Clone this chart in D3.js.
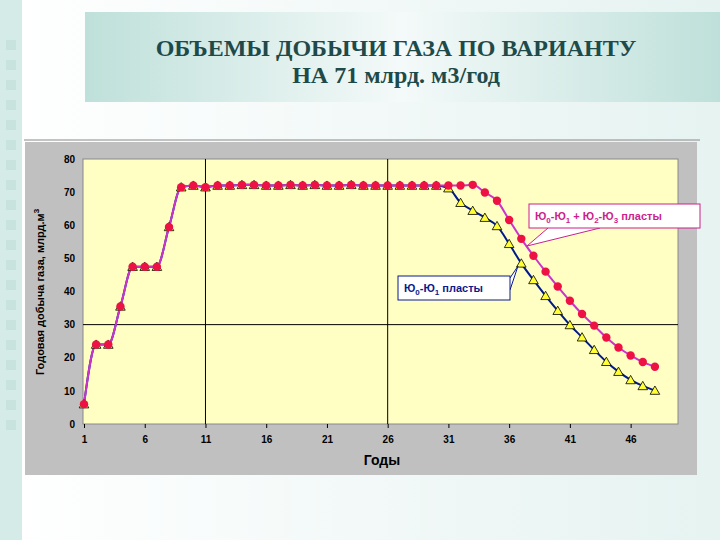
<!DOCTYPE html><html><head><meta charset="utf-8"><script src="https://cdn.jsdelivr.net/npm/d3@7"></script>
<style>body{margin:0}svg{display:block}.ttl{font-family:"Liberation Serif","Times New Roman","DejaVu Serif",serif}</style></head><body><svg id="c" width="720" height="540"></svg>
<script>
const years = d3.range(1,49);
const totalSeries = [6,24,24,35.5,47.5,47.5,47.5,59.5,71.5,72,71.5,72,72,72.2,72.2,72,72,72.2,72,72.2,72,72,72.2,72,72,72,72,72,72,72,72,72,72.2,69.9,67.4,61.6,55.9,50.8,46,41.5,37.2,33.2,29.7,26.1,23.1,20.7,18.7,17.3];
const baseSeries = [6,24,24,35.5,47.5,47.5,47.5,59.5,71.5,72,71.5,72,72,72.2,72.2,72,72,72.2,72,72.2,72,72,72.2,72,72,72,72,72,72,72,71.2,66.8,64.4,62.3,59.8,54.4,48.5,43.5,38.7,34.2,29.9,26.2,22.4,18.8,15.8,13.3,11.5,10.1];
const xTicks = [1,6,11,16,21,26,31,36,41,46];
const yTicks = [0,10,20,30,40,50,60,70,80];

const svg = d3.select('#c');
const defs = svg.append('defs');
const g1 = defs.append('linearGradient').attr('id','bg').attr('x1',0).attr('x2',1);
g1.append('stop').attr('offset',0).attr('stop-color','#ffffff');
g1.append('stop').attr('offset',1).attr('stop-color','#e6f3f1');
const g2 = defs.append('linearGradient').attr('id','band').attr('x1',0).attr('x2',1);
g2.append('stop').attr('offset',0).attr('stop-color','#bfe0da');
g2.append('stop').attr('offset',0.5).attr('stop-color','#f4faf9');
g2.append('stop').attr('offset',1).attr('stop-color','#bfe0da');
svg.append('rect').attr('width',720).attr('height',540).attr('fill','url(#bg)');
svg.append('rect').attr('x',85).attr('y',12).attr('width',635).attr('height',90).attr('fill','url(#band)');
svg.append('rect').attr('x',0).attr('y',0).attr('width',22).attr('height',540).attr('fill','#d5ebe7');
for(let i=0;i<20;i++) svg.append('rect').attr('x',6).attr('y',40+i*20).attr('width',10).attr('height',10).attr('fill','#c8e3de');
svg.append('line').attr('x1',24).attr('x2',700).attr('y1',140).attr('y2',140).attr('stroke','#888');
svg.append('text').attr('class','ttl').attr('x',396).attr('y',56).attr('text-anchor','middle').attr('font-weight','bold').attr('font-size',24).attr('fill','#1e4a4a').text('ОБЪЕМЫ ДОБЫЧИ ГАЗА ПО ВАРИАНТУ');
svg.append('text').attr('class','ttl').attr('x',396).attr('y',83).attr('text-anchor','middle').attr('font-weight','bold').attr('font-size',24).attr('fill','#1e4a4a').text('НА 71 млрд. м3/год');

svg.append('rect').attr('x',25).attr('y',142).attr('width',672).attr('height',333).attr('fill','#c0c0c0');
const L=83,R=678,T=159,B=424;
const x = d3.scaleLinear().domain([1,49.9]).range([84,678]);
const y = d3.scaleLinear().domain([0,80]).range([B,T]);
svg.append('rect').attr('x',L).attr('y',T).attr('width',R-L).attr('height',B-T).attr('fill','#ffffc4').attr('stroke','#888');
svg.append('line').attr('x1',L).attr('x2',R).attr('y1',y(30)).attr('y2',y(30)).attr('stroke','#000');
[11,26].forEach(v=>svg.append('line').attr('x1',x(v)).attr('x2',x(v)).attr('y1',T).attr('y2',B).attr('stroke','#000'));
const ax = svg.append('g').attr('transform',`translate(0,${B})`).call(d3.axisBottom(x).tickValues(xTicks).tickSize(4).tickPadding(8));
const ay = svg.append('g').attr('transform',`translate(${L},0)`).call(d3.axisLeft(y).tickValues(yTicks).tickSize(0).tickPadding(8));
[ax,ay].forEach(a=>{a.select('.domain').remove();a.selectAll('text').attr('font-family','Liberation Sans').attr('font-weight','bold').attr('font-size',10).attr('fill','#000');});
svg.append('text').attr('x',382).attr('y',465).attr('text-anchor','middle').attr('font-family','Liberation Sans').attr('font-weight','bold').attr('font-size',14).text('Годы');
const yl = svg.append('text').attr('transform','translate(44,292) rotate(-90)').attr('text-anchor','middle').attr('font-family','Liberation Sans').attr('font-weight','bold').attr('font-size',11).attr('fill','#000');
yl.append('tspan').text('Годовая добыча газа, млрд.м');
yl.append('tspan').attr('dy',-5).attr('font-size',8).text('3');

const line = d3.line().x((d,i)=>x(years[i])).y(d=>y(d)).curve(d3.curveMonotoneX);
svg.append('path').attr('d',line(baseSeries)).attr('fill','none').attr('stroke','#001a8c').attr('stroke-width',2);
svg.append('path').attr('d',line(totalSeries)).attr('fill','none').attr('stroke','#cc33cc').attr('stroke-width',2);
svg.selectAll('.tri').data(baseSeries).enter().append('path')
 .attr('d',d3.symbol().type(d3.symbolTriangle).size(40)).attr('transform',(d,i)=>`translate(${x(years[i])},${y(d)+1})`)
 .attr('fill','#ffff33').attr('stroke','#000').attr('stroke-width',0.8);
svg.selectAll('.dot').data(totalSeries).enter().append('circle')
 .attr('cx',(d,i)=>x(years[i])).attr('cy',d=>y(d)).attr('r',4.2).attr('fill','#ee1144');

function addText(t,parts){parts.forEach(p=>{ if(p[1]) t.append('tspan').attr('dy',3).attr('font-size',8).text(p[0]); else t.append('tspan').attr('dy',p[2]||0).text(p[0]);});}
svg.append('path').attr('d','M548,228 L527,246 L600,228').attr('fill','#fff').attr('stroke','#cc1f8c');
svg.append('rect').attr('x',529).attr('y',204).attr('width',171).attr('height',24).attr('fill','#fff').attr('stroke','#cc1f8c');
addText(svg.append('text').attr('x',535).attr('y',220).attr('font-family','Liberation Sans').attr('font-weight','bold').attr('font-size',11).attr('fill','#cc1f8c'),
 [['Ю'],['0',1],['-Ю',0,-3],['1',1],[' + Ю',0,-3],['2',1],['-Ю',0,-3],['3',1],[' пласты',0,-3]]);
svg.append('path').attr('d','M510,278 L518,266 L510,290').attr('fill','#fff').attr('stroke','#0a1a8c');
svg.append('rect').attr('x',398).attr('y',276).attr('width',112).attr('height',24).attr('fill','#fff').attr('stroke','#0a1a8c');
addText(svg.append('text').attr('x',404).attr('y',292).attr('font-family','Liberation Sans').attr('font-weight','bold').attr('font-size',11).attr('fill','#0a1a8c'),
 [['Ю'],['0',1],['-Ю',0,-3],['1',1],[' пласты',0,-3]]);
</script></body></html>
